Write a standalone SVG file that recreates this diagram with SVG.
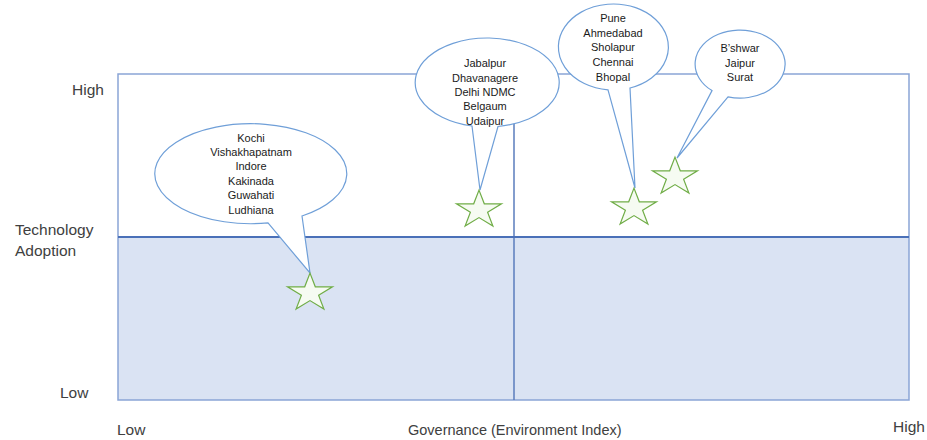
<svg xmlns="http://www.w3.org/2000/svg" width="927" height="440" viewBox="0 0 927 440">
  <style>
    .axis { font-family: "Liberation Sans", Arial, sans-serif; font-size: 15.5px; fill: #404040; }
    .axis-x { font-family: "Liberation Sans", Arial, sans-serif; font-size: 14.5px; fill: #404040; }
    .city { font-family: "Liberation Sans", Arial, sans-serif; font-size: 11px; fill: #1a1a1a; text-anchor: middle; }
    .callout { fill: #ffffff; stroke: #6f9fd8; stroke-width: 1.2; stroke-linejoin: miter; }
    .star { fill: #f6fbf2; stroke: #70ad47; stroke-width: 1.2; stroke-linejoin: miter; }
    .frame { fill: none; stroke: #8aa5d6; stroke-width: 1.5; }
    .divider { stroke: #4a70b8; stroke-width: 2; fill: none; }
    .vdivider { stroke: #5a7cbc; stroke-width: 1.5; fill: none; }
  </style>
  <defs>
    <path id="star" d="M0,-19.9 L5.3,-6.2 L22.5,-6.2 L8.6,2.3 L13.9,16.1 L0,7.6 L-13.9,16.1 L-8.6,2.3 L-22.5,-6.2 L-5.3,-6.2 Z"/>
  </defs>
  <rect width="927" height="440" fill="#ffffff"/>

  <g id="quadrant-chart">
    <rect x="118" y="74" width="791" height="163" fill="#ffffff"/>
    <rect x="118" y="237" width="791" height="163" fill="#dae3f3"/>
    <rect class="frame" x="118" y="74" width="791" height="326"/>
    <line class="vdivider" x1="514" y1="74" x2="514" y2="400"/>
    <line class="divider" x1="118" y1="237" x2="909" y2="237"/>
  </g>

  <g id="axis-labels">
    <text class="axis" x="72" y="95">High</text>
    <text class="axis" x="15" y="235">Technology</text>
    <text class="axis" x="15" y="256">Adoption</text>
    <text class="axis" x="60" y="398">Low</text>
    <text class="axis" x="117" y="435">Low</text>
    <text class="axis-x" x="408" y="435">Governance (Environment Index)</text>
    <text class="axis" x="893" y="432">High</text>
  </g>

  <g id="connectors">
  </g>

  <g id="callout-1">
    <path class="callout" d="M268,222.9 L310,273 L302,216 A96 50 0 1 0 268,222.9 Z"/>
    <text class="city" x="251" y="142">Kochi</text>
    <text class="city" x="251" y="156">Vishakhapatnam</text>
    <text class="city" x="251" y="170">Indore</text>
    <text class="city" x="251" y="185">Kakinada</text>
    <text class="city" x="251" y="199">Guwahati</text>
    <text class="city" x="251" y="214">Ludhiana</text>
  </g>
  <g id="callout-2">
    <path class="callout" d="M472,126 L480,190 L498,126.5 A72 44.5 0 1 0 472,126 Z"/>
    <text class="city" x="485" y="67">Jabalpur</text>
    <text class="city" x="485" y="82">Dhavanagere</text>
    <text class="city" x="485" y="96">Delhi NDMC</text>
    <text class="city" x="485" y="110">Belgaum</text>
    <text class="city" x="485" y="125">Udaipur</text>
  </g>
  <g id="callout-3">
    <path class="callout" d="M608,89.8 L635,188 L630,88 A55 43 0 1 0 608,89.8 Z"/>
    <text class="city" x="613" y="22">Pune</text>
    <text class="city" x="613" y="37">Ahmedabad</text>
    <text class="city" x="613" y="51">Sholapur</text>
    <text class="city" x="613" y="66">Chennai</text>
    <text class="city" x="613" y="81">Bhopal</text>
  </g>
  <g id="callout-4">
    <path class="callout" d="M712,90.6 L677,158 L728,96.8 A45 34 0 1 0 712,90.6 Z"/>
    <text class="city" x="740" y="52">B’shwar</text>
    <text class="city" x="740" y="67">Jaipur</text>
    <text class="city" x="740" y="81">Surat</text>
  </g>

  <g id="star-1"><use href="#star" class="star" transform="translate(310,293)"/></g>
  <g id="star-2"><use href="#star" class="star" transform="translate(479,210)"/></g>
  <g id="star-3"><use href="#star" class="star" transform="translate(634,208)"/></g>
  <g id="star-4"><use href="#star" class="star" transform="translate(675,177)"/></g>
</svg>
